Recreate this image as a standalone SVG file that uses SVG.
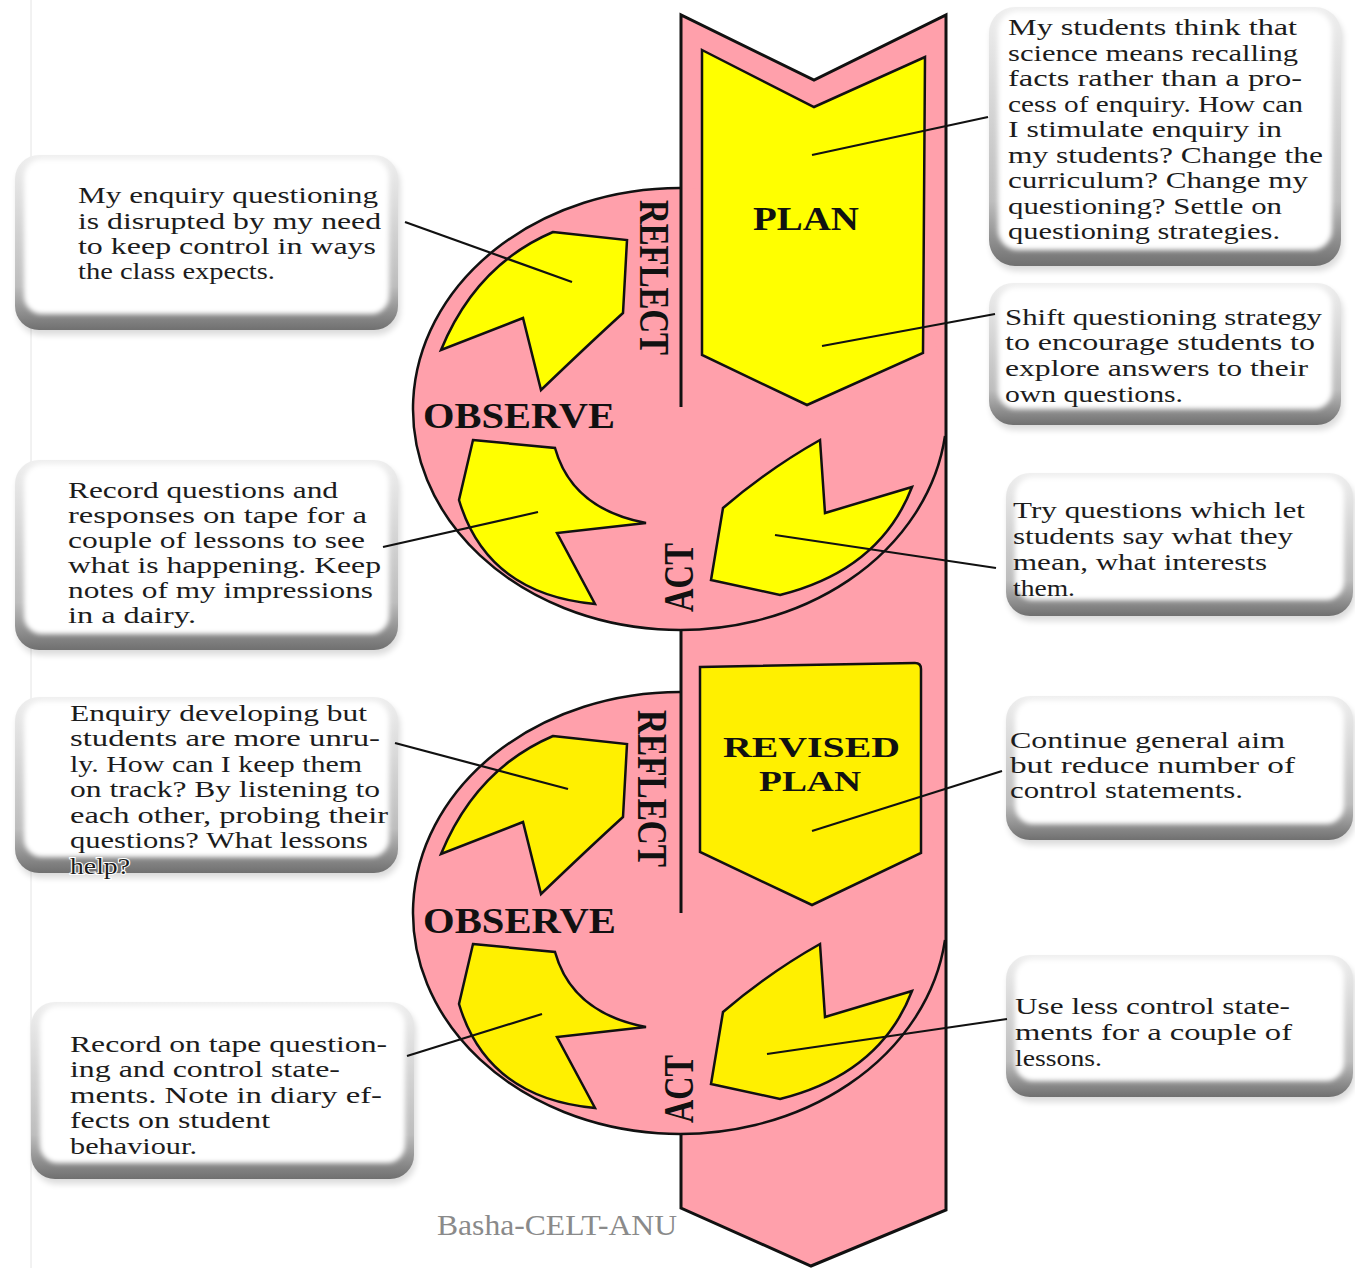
<svg xmlns="http://www.w3.org/2000/svg" width="1355" height="1268" viewBox="0 0 1355 1268">
<defs>
<linearGradient id="gOut" x1="0" y1="0" x2="0" y2="1">
<stop offset="0" stop-color="#efefef"/><stop offset="0.75" stop-color="#bdbdbd"/><stop offset="1" stop-color="#707070"/>
</linearGradient>
<filter id="soft" x="-5%" y="-5%" width="110%" height="110%"><feGaussianBlur stdDeviation="2.5"/></filter>
<filter id="shd" x="-5%" y="-5%" width="110%" height="115%"><feGaussianBlur stdDeviation="3"/></filter>
<style>
.sh{fill:#000;opacity:.14;filter:url(#shd)}
.bo{fill:url(#gOut)}
.bi{fill:#fff;filter:url(#soft)}
.t{font-family:"Liberation Serif","Times New Roman",serif;font-size:23px;fill:#1c1c1c}
.lab{font-family:"Liberation Serif","Times New Roman",serif;font-weight:bold;fill:#111}
.pink{fill:#FFA0AB}
.y1{fill:#FFFF00;stroke:#111;stroke-width:2.5;stroke-linejoin:miter}
.y2{fill:#FFF000;stroke:#111;stroke-width:2.5;stroke-linejoin:miter}
.ol{fill:none;stroke:#111;stroke-width:3}
.arc{fill:none;stroke:#111;stroke-width:2.5}
.con{stroke:#111;stroke-width:2.2;fill:none}
</style>
</defs>
<rect width="1355" height="1268" fill="#fff"/>
<line x1="31" y1="0" x2="31" y2="1268" stroke="#e4e4e4" stroke-width="1"/>

<g id="cycle">
<path class="pink" d="M681,15 L814,80 L946,15 V1210 L811,1266 L681,1208 Z"/>
<ellipse class="pink" cx="680" cy="409" rx="267" ry="221"/>
<ellipse class="pink" cx="680" cy="913" rx="267" ry="221"/>
<path class="arc" d="M680,188 A267,221 0 1 0 945,436"/>
<path class="arc" d="M680,692 A267,221 0 1 0 945,940"/>
<path class="ol" d="M681,407 V15 L814,80 L946,15 V1210 L811,1266 L681,1208 V1133 M681,629 V913"/>
</g>

<g id="plan">
<path class="y1" d="M702,50 L814,107 L925,57 L923,353 L807,405 L702,355 Z"/>
<text class="lab" x="753" y="230" font-size="33" textLength="106" lengthAdjust="spacingAndGlyphs">PLAN</text>
</g>

<g id="revised-plan">
<path class="y2" d="M700,667 L915,663 Q921,663 921,669 L921,853 L812,905 L700,852 Z"/>
<text class="lab" x="723" y="757" font-size="29" textLength="177" lengthAdjust="spacingAndGlyphs">REVISED</text>
<text class="lab" x="759" y="791" font-size="29" textLength="102" lengthAdjust="spacingAndGlyphs">PLAN</text>
</g>

<g id="cycle1-arrows">
<path id="reflect-arrow-1" class="y1" d="M553,232 L627,240 L623,313 Q590,343 541,390 L523,318 L441,350 Q476,265 553,232 Z"/>
<path id="observe-arrow-1" class="y1" d="M473,440 L555,448 Q572,509 646,523 L557,533 L595,604 Q487,594 459,500 Z"/>
<path id="act-arrow-1" class="y1" d="M820,440 L825,513 L912,487 Q880,570 780,595 L711,580 L723,508 Q770,468 820,440 Z"/>
<text class="lab" transform="translate(640,200) rotate(90)" font-size="42" textLength="155" lengthAdjust="spacingAndGlyphs">REFLECT</text>
<text class="lab" x="423" y="428" font-size="35" textLength="192" lengthAdjust="spacingAndGlyphs">OBSERVE</text>
<text class="lab" transform="translate(693,612) rotate(-90)" font-size="43" textLength="69" lengthAdjust="spacingAndGlyphs">ACT</text>
</g>

<g id="cycle2-arrows">
<path id="reflect-arrow-2" class="y2" transform="translate(0,504)" d="M553,232 L627,240 L623,313 Q590,343 541,390 L523,318 L441,350 Q476,265 553,232 Z"/>
<path id="observe-arrow-2" class="y2" transform="translate(0,504)" d="M473,440 L555,448 Q572,509 646,523 L557,533 L595,604 Q487,594 459,500 Z"/>
<path id="act-arrow-2" class="y2" transform="translate(0,504)" d="M820,440 L825,513 L912,487 Q880,570 780,595 L711,580 L723,508 Q770,468 820,440 Z"/>
<text class="lab" transform="translate(638,710) rotate(90)" font-size="42" textLength="157" lengthAdjust="spacingAndGlyphs">REFLECT</text>
<text class="lab" x="423" y="933" font-size="35" textLength="193" lengthAdjust="spacingAndGlyphs">OBSERVE</text>
<text class="lab" transform="translate(693,1123) rotate(-90)" font-size="43" textLength="68" lengthAdjust="spacingAndGlyphs">ACT</text>
</g>

<g id="box-reflect1">
<rect class="sh" x="17" y="160" width="383" height="175" rx="24"/>
<rect class="bo" x="15" y="155" width="383" height="175" rx="24"/>
<rect class="bi" x="24" y="159" width="365" height="155" rx="18"/>
<text class="t" x="78" y="203" textLength="300" lengthAdjust="spacingAndGlyphs">My enquiry questioning</text>
<text class="t" x="78" y="229" textLength="303" lengthAdjust="spacingAndGlyphs">is disrupted by my need</text>
<text class="t" x="78" y="254" textLength="298" lengthAdjust="spacingAndGlyphs">to keep control in ways</text>
<text class="t" x="78" y="279" textLength="197" lengthAdjust="spacingAndGlyphs">the class expects.</text>
</g>

<g id="box-observe1">
<rect class="sh" x="17" y="465" width="383" height="190" rx="24"/>
<rect class="bo" x="15" y="460" width="383" height="190" rx="24"/>
<rect class="bi" x="24" y="464" width="365" height="170" rx="18"/>
<text class="t" x="68" y="498" textLength="270" lengthAdjust="spacingAndGlyphs">Record questions and</text>
<text class="t" x="68" y="523" textLength="299" lengthAdjust="spacingAndGlyphs">responses on tape for a</text>
<text class="t" x="68" y="548" textLength="297" lengthAdjust="spacingAndGlyphs">couple of lessons to see</text>
<text class="t" x="68" y="573" textLength="313" lengthAdjust="spacingAndGlyphs">what is happening. Keep</text>
<text class="t" x="68" y="598" textLength="305" lengthAdjust="spacingAndGlyphs">notes of my impressions</text>
<text class="t" x="68" y="623" textLength="128" lengthAdjust="spacingAndGlyphs">in a dairy.</text>
</g>

<g id="box-reflect2">
<rect class="sh" x="17" y="702" width="383" height="176" rx="24"/>
<rect class="bo" x="15" y="697" width="383" height="176" rx="24"/>
<rect class="bi" x="24" y="701" width="365" height="156" rx="18"/>
<text class="t" x="70" y="721" textLength="297" lengthAdjust="spacingAndGlyphs">Enquiry developing but</text>
<text class="t" x="70" y="746" textLength="310" lengthAdjust="spacingAndGlyphs">students are more unru-</text>
<text class="t" x="70" y="772" textLength="292" lengthAdjust="spacingAndGlyphs">ly. How can I keep them</text>
<text class="t" x="70" y="797" textLength="310" lengthAdjust="spacingAndGlyphs">on track? By listening to</text>
<text class="t" x="70" y="823" textLength="318" lengthAdjust="spacingAndGlyphs">each other, probing their</text>
<text class="t" x="70" y="848" textLength="298" lengthAdjust="spacingAndGlyphs">questions? What lessons</text>
<text class="t" x="70" y="874" textLength="60" lengthAdjust="spacingAndGlyphs" stroke="#fff" stroke-width="2" paint-order="stroke">help?</text>
</g>

<g id="box-observe2">
<rect class="sh" x="33" y="1007" width="383" height="177" rx="24"/>
<rect class="bo" x="31" y="1002" width="383" height="177" rx="24"/>
<rect class="bi" x="40" y="1006" width="365" height="157" rx="18"/>
<text class="t" x="70" y="1052" textLength="317" lengthAdjust="spacingAndGlyphs">Record on tape question-</text>
<text class="t" x="70" y="1077" textLength="270" lengthAdjust="spacingAndGlyphs">ing and control state-</text>
<text class="t" x="70" y="1103" textLength="312" lengthAdjust="spacingAndGlyphs">ments. Note in diary ef-</text>
<text class="t" x="70" y="1128" textLength="200" lengthAdjust="spacingAndGlyphs">fects on student</text>
<text class="t" x="70" y="1154" textLength="127" lengthAdjust="spacingAndGlyphs">behaviour.</text>
</g>

<g id="box-plan">
<rect class="sh" x="991" y="12" width="352" height="259" rx="26"/>
<rect class="bo" x="989" y="7" width="352" height="259" rx="26"/>
<rect class="bi" x="998" y="11" width="334" height="239" rx="20"/>
<text class="t" x="1008" y="35" textLength="289" lengthAdjust="spacingAndGlyphs">My students think that</text>
<text class="t" x="1008" y="61" textLength="290" lengthAdjust="spacingAndGlyphs">science means recalling</text>
<text class="t" x="1008" y="86" textLength="294" lengthAdjust="spacingAndGlyphs">facts rather than a pro-</text>
<text class="t" x="1008" y="112" textLength="295" lengthAdjust="spacingAndGlyphs">cess of enquiry. How can</text>
<text class="t" x="1008" y="137" textLength="274" lengthAdjust="spacingAndGlyphs">I stimulate enquiry in</text>
<text class="t" x="1008" y="163" textLength="315" lengthAdjust="spacingAndGlyphs">my students? Change the</text>
<text class="t" x="1008" y="188" textLength="300" lengthAdjust="spacingAndGlyphs">curriculum? Change my</text>
<text class="t" x="1008" y="214" textLength="274" lengthAdjust="spacingAndGlyphs">questioning? Settle on</text>
<text class="t" x="1008" y="239" textLength="272" lengthAdjust="spacingAndGlyphs">questioning strategies.</text>
</g>

<g id="box-plan-shift">
<rect class="sh" x="991" y="288" width="352" height="142" rx="24"/>
<rect class="bo" x="989" y="283" width="352" height="142" rx="24"/>
<rect class="bi" x="998" y="287" width="334" height="122" rx="18"/>
<text class="t" x="1005" y="325" textLength="317" lengthAdjust="spacingAndGlyphs">Shift questioning strategy</text>
<text class="t" x="1005" y="350" textLength="310" lengthAdjust="spacingAndGlyphs">to encourage students to</text>
<text class="t" x="1005" y="376" textLength="303" lengthAdjust="spacingAndGlyphs">explore answers to their</text>
<text class="t" x="1005" y="402" textLength="178" lengthAdjust="spacingAndGlyphs">own questions.</text>
</g>

<g id="box-act1">
<rect class="sh" x="1008" y="478" width="347" height="143" rx="24"/>
<rect class="bo" x="1006" y="473" width="347" height="143" rx="24"/>
<rect class="bi" x="1015" y="477" width="329" height="123" rx="18"/>
<text class="t" x="1013" y="518" textLength="292" lengthAdjust="spacingAndGlyphs">Try questions which let</text>
<text class="t" x="1013" y="544" textLength="280" lengthAdjust="spacingAndGlyphs">students say what they</text>
<text class="t" x="1013" y="570" textLength="254" lengthAdjust="spacingAndGlyphs">mean, what interests</text>
<text class="t" x="1013" y="596" textLength="62" lengthAdjust="spacingAndGlyphs">them.</text>
</g>

<g id="box-revised">
<rect class="sh" x="1008" y="701" width="347" height="144" rx="24"/>
<rect class="bo" x="1006" y="696" width="347" height="144" rx="24"/>
<rect class="bi" x="1015" y="700" width="329" height="124" rx="18"/>
<text class="t" x="1010" y="748" textLength="275" lengthAdjust="spacingAndGlyphs">Continue general aim</text>
<text class="t" x="1010" y="773" textLength="285" lengthAdjust="spacingAndGlyphs">but reduce number of</text>
<text class="t" x="1010" y="798" textLength="233" lengthAdjust="spacingAndGlyphs">control statements.</text>
</g>

<g id="box-act2">
<rect class="sh" x="1008" y="960" width="347" height="142" rx="24"/>
<rect class="bo" x="1006" y="955" width="347" height="142" rx="24"/>
<rect class="bi" x="1015" y="959" width="329" height="122" rx="18"/>
<text class="t" x="1015" y="1014" textLength="275" lengthAdjust="spacingAndGlyphs">Use less control state-</text>
<text class="t" x="1015" y="1040" textLength="277" lengthAdjust="spacingAndGlyphs">ments for a couple of</text>
<text class="t" x="1015" y="1066" textLength="87" lengthAdjust="spacingAndGlyphs">lessons.</text>
</g>

<g id="connectors">
<line class="con" x1="988" y1="117" x2="812" y2="155"/>
<line class="con" x1="995" y1="314" x2="822" y2="346"/>
<line class="con" x1="405" y1="222" x2="572" y2="282"/>
<line class="con" x1="383" y1="547" x2="538" y2="512"/>
<line class="con" x1="996" y1="568" x2="775" y2="535"/>
<line class="con" x1="395" y1="743" x2="568" y2="789"/>
<line class="con" x1="1002" y1="771" x2="812" y2="831"/>
<line class="con" x1="407" y1="1056" x2="542" y2="1014"/>
<line class="con" x1="1007" y1="1019" x2="767" y2="1054"/>
</g>

<g id="caption">
<text x="437" y="1235" font-family="'Liberation Serif','Times New Roman',serif" font-size="30" fill="#8a8a8a" textLength="240" lengthAdjust="spacingAndGlyphs">Basha-CELT-ANU</text>
</g>
</svg>
